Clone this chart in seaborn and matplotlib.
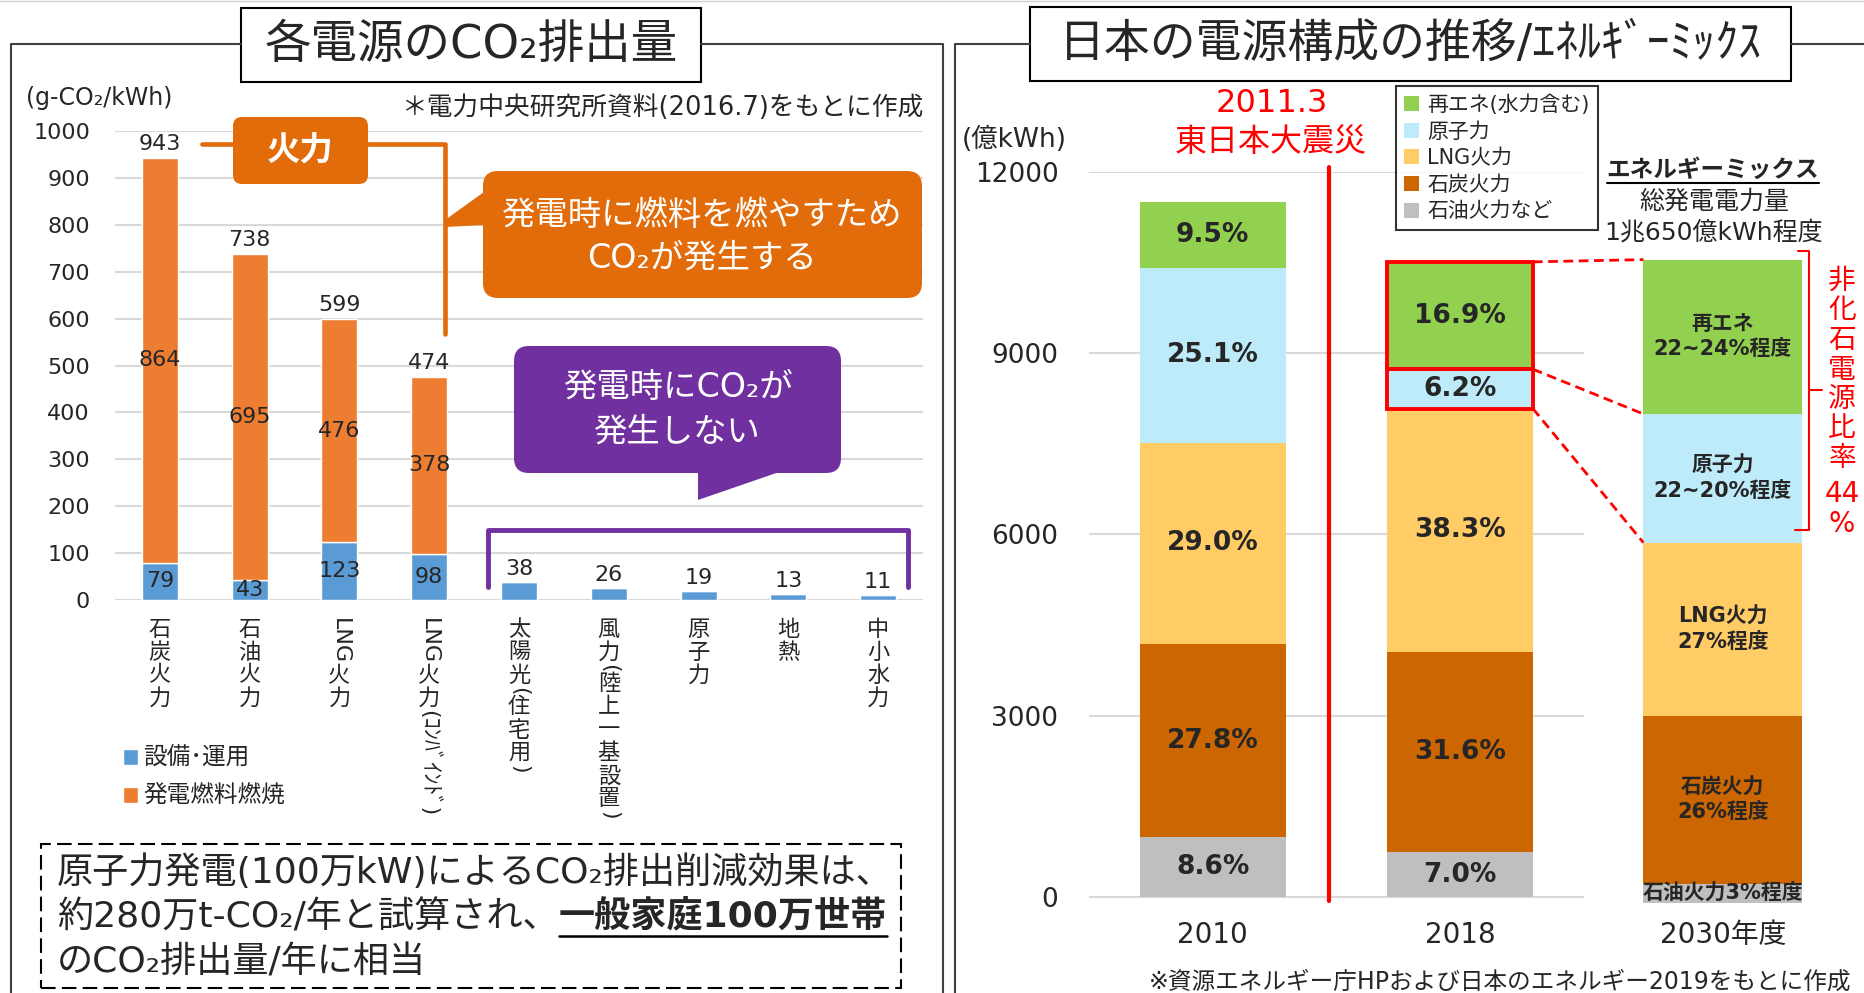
import matplotlib
matplotlib.use("Agg")
import matplotlib.pyplot as plt
import seaborn as sns
import numpy as np
from matplotlib.patches import FancyBboxPatch, Polygon, Rectangle
from matplotlib.lines import Line2D
from matplotlib.transforms import IdentityTransform

# --- datos: CO2 por fuente (g-CO2/kWh) ---
fuentes = ['石炭火力', '石油火力', 'LNG火力', 'LNG火力(ｺﾝﾊﾞｲﾝﾄﾞ)', '太陽光(住宅用)',
           '風力(陸上一基設置)', '原子力', '地熱', '中小水力']
setsubi = [79, 43, 123, 98, 38, 26, 19, 13, 11]      # 設備・運用
nenryo = [864, 695, 476, 378, 0, 0, 0, 0, 0]         # 発電燃料燃焼
goukei = [943, 738, 599, 474, 38, 26, 19, 13, 11]

# --- datos: composicion de generacion (億kWh, %) ---
nendo = ['2010', '2018', '2030年度']
souhatsuden = [11500, 10512, 10650]
dengen = ['石油火力など', '石炭火力', 'LNG火力', '原子力', '再エネ(水力含む)']
share_2010 = [8.6, 27.8, 29.0, 25.1, 9.5]
share_2018 = [7.0, 31.6, 38.3, 6.2, 16.9]
share_2030 = [3, 26, 27, 20, 24]
etiquetas_2030 = ['石油火力3%程度', '石炭火力\n26%程度', 'LNG火力\n27%程度',
                  '原子力\n22~20%程度', '再エネ\n22~24%程度']

AZUL = '#5B9BD5'
NARANJA = '#ED7D31'
NARANJA_OSC = '#E26B0A'
MORADO = '#7030A0'
colores_mix = ['#BFBFBF', '#CC6600', '#FFCC66', '#BDEBFA', '#92D050']

sns.set_theme(style="white")
plt.rcParams['font.family'] = ['DejaVu Sans', 'Noto Sans CJK JP']

W, H = 1865, 993
fig = plt.figure(figsize=(W / 100, H / 100), dpi=100)
ID = IdentityTransform()
renderer = fig.canvas.get_renderer()


def texto(x, y, s, **kw):
    return fig.text(x, H - y, s, transform=ID, **kw)


def linea(pts, **kw):
    fig.add_artist(Line2D([p[0] for p in pts], [H - p[1] for p in pts], transform=ID, **kw))


def caja(x0, y0, x1, y1, r, fc, ec='none', lw=0):
    fig.add_artist(FancyBboxPatch((x0, H - y1), x1 - x0, y1 - y0,
                                  boxstyle=f"round,pad=0,rounding_size={r}",
                                  transform=ID, fc=fc, ec=ec, lw=lw))


def poligono(pts, color):
    fig.add_artist(Polygon([(x, H - y) for x, y in pts], closed=True, transform=ID, fc=color, ec='none'))


def texto_vertical(xc, ytop, s, size, paso, **kw):
    # escritura vertical: kanji derechos, latin/kana de medio ancho girados
    runs = []
    for ch in s:
        up = ord(ch) >= 0x3000 and not (0xFF61 <= ord(ch) <= 0xFF9F)
        if runs and not up and not runs[-1][1]:
            runs[-1][0] += ch
        else:
            runs.append([ch, up])
    y = ytop
    for run, up in runs:
        if up:
            texto(xc, y + paso / 2, run, fontsize=size, ha='center', va='center', **kw)
            y += paso
        else:
            t = texto(xc, 0, run, fontsize=size, rotation=-90, ha='center', va='center', **kw)
            h = t.get_window_extent(renderer).height
            t.set_position((xc, H - (y + h / 2)))
            y += h


# ================= panel izquierdo =================
ax1 = fig.add_axes([115 / W, 1 - 600 / H, 808 / W, 469 / H])
sns.barplot(x=fuentes, y=setsubi, color=AZUL, width=0.4, saturation=1, errorbar=None, ax=ax1)
ax1.bar(np.arange(len(fuentes)), nenryo, bottom=setsubi, width=0.4, color=NARANJA)
ax1.set_xlim(-0.5, 8.5)
ax1.set_ylim(0, 1000)
ax1.set_yticks(range(0, 1001, 100))
ax1.set_xticks([])
ax1.set_xlabel('')
ax1.set_ylabel('')
ax1.tick_params(axis='y', labelsize=16, length=0, pad=18)
ax1.yaxis.grid(True, color='#D9D9D9', lw=1.5)
ax1.set_axisbelow(True)
ax1.set_facecolor('none')
for sp in ax1.spines.values():
    sp.set_visible(False)

bc_az, bc_nar = ax1.containers[0], ax1.containers[1]
ax1.bar_label(bc_az, labels=[str(v) if n > 0 else '' for v, n in zip(setsubi, nenryo)],
              label_type='center', fontsize=16)
ax1.bar_label(bc_az, labels=[str(v) if n == 0 else '' for v, n in zip(setsubi, nenryo)],
              padding=2, fontsize=16)
ax1.bar_label(bc_nar, labels=[str(n) if n > 0 else '' for n in nenryo], label_type='center', fontsize=16)
ax1.bar_label(bc_nar, labels=[str(t) if n > 0 else '' for t, n in zip(goukei, nenryo)], padding=3, fontsize=16)

ax1.legend([bc_az, bc_nar], ['設備･運用', '発電燃料燃焼'], loc='upper left',
           bbox_to_anchor=(123 / W, 1 - 746 / H), bbox_transform=fig.transFigure,
           frameon=False, fontsize=17, handlelength=0.64, handleheight=0.64,
           handletextpad=0.2, labelspacing=0.6, borderpad=0, borderaxespad=0)

for i, nombre in enumerate(fuentes):
    xd = ax1.transData.transform((i, 0))[0]
    texto_vertical(xd, 618, nombre, 16, 23)

# marco y titulo
linea([(241, 44), (11, 44), (11, 1000)], color='#404040', lw=1.5)
linea([(701, 44), (943, 44), (943, 1000)], color='#404040', lw=1.5)
fig.add_artist(Rectangle((241, H - 82), 460, 74, transform=ID, fc='white', ec='black', lw=1.5))
texto(471, 45, '各電源のCO₂排出量', fontsize=33.5, ha='center', va='center')
texto(99, 98, '(g-CO₂/kWh)', fontsize=17, ha='center', va='center')
texto(923, 108, '＊電力中央研究所資料(2016.7)をもとに作成', fontsize=18.5, ha='right', va='center')

# 火力
linea([(202, 144), (233, 144)], color=NARANJA_OSC, lw=3.3)
linea([(368, 144), (445, 144), (445, 334)], color=NARANJA_OSC, lw=3.3)
caja(233, 117, 368, 184, 9, NARANJA_OSC)
texto(300, 150, '火力', fontsize=24, fontweight='bold', color='white', ha='center', va='center')

caja(483, 171, 922, 298, 15, NARANJA_OSC)
poligono([(484, 192), (445, 220), (445, 227), (484, 225)], NARANJA_OSC)
texto(702, 215, '発電時に燃料を燃やすため', fontsize=24, color='white', ha='center', va='center')
texto(702, 258, 'CO₂が発生する', fontsize=24, color='white', ha='center', va='center')

caja(514, 346, 841, 473, 15, MORADO)
poligono([(698, 470), (785, 470), (698, 500)], MORADO)
texto(679, 388, '発電時にCO₂が', fontsize=24, color='white', ha='center', va='center')
texto(677, 432, '発生しない', fontsize=24, color='white', ha='center', va='center')
linea([(488, 587), (488, 530), (908, 530), (908, 587)], color=MORADO, lw=3.5)

# recuadro inferior
fig.add_artist(Rectangle((41, H - 988), 860, 144, transform=ID, fill=False, ec='black',
                         lw=1.5, ls=(0, (7, 3))))
texto(57, 872, '原子力発電(100万kW)によるCO₂排出削減効果は、', fontsize=26, va='center')
t1 = texto(57, 917, '約280万t-CO₂/年と試算され、', fontsize=26, va='center')
bb1 = t1.get_window_extent(renderer)
t2 = texto(bb1.x1, 917, '一般家庭100万世帯', fontsize=26, fontweight='bold', va='center')
bb2 = t2.get_window_extent(renderer)
linea([(bb2.x0, 936), (bb2.x1, 936)], color='black', lw=1.8)
texto(57, 962, 'のCO₂排出量/年に相当', fontsize=26, va='center')

# ================= panel derecho =================
ax2 = fig.add_axes([1089 / W, 1 - 915 / H, 776 / W, 743 / H])
xpos = np.array([0, 1, 2.063])
anchos = np.array([0.59, 0.59, 0.642])
base = np.array([0, 0, -100])
shares = np.array([share_2010, share_2018, share_2030])
alturas = np.array(souhatsuden)[:, None] * shares / 100
fondos = base[:, None] + np.cumsum(alturas, axis=1) - alturas

for j in range(len(dengen)):
    ax2.bar(xpos, alturas[:, j], bottom=fondos[:, j], width=anchos, color=colores_mix[j], linewidth=0)

ax2.set_xlim(-0.5, 2.638)
ax2.set_ylim(-300, 12000)
ax2.hlines(range(0, 12001, 3000), -0.5, 1.5, colors='#D9D9D9', lw=1.5, zorder=0.5)
ax2.set_yticks(range(0, 12001, 3000))
ax2.set_xticks(xpos)
ax2.set_xticklabels(nendo)
ax2.tick_params(axis='y', labelsize=19, length=0, pad=22)
ax2.tick_params(axis='x', labelsize=20, length=0, pad=4)
ax2.set_facecolor('none')
for sp in ax2.spines.values():
    sp.set_visible(False)

for j, cont in enumerate(ax2.containers):
    ax2.bar_label(cont, labels=[f"{shares[0, j]:.1f}%", f"{shares[1, j]:.1f}%", ''],
                  label_type='center', fontsize=19, fontweight='bold')
    ax2.bar_label(cont, labels=['', '', etiquetas_2030[j]], label_type='center',
                  fontsize=15, fontweight='bold', linespacing=1.3)

# resaltar no fosiles 2018 y conectar con 2030
for j in (3, 4):
    ax2.add_patch(Rectangle((1 - anchos[1] / 2, fondos[1, j]), anchos[1], alturas[1, j],
                            fill=False, ec='red', lw=2.8, clip_on=False, zorder=5))
for y18, y30 in [(fondos[1, 3], fondos[2, 3]), (fondos[1, 4], fondos[2, 4]),
                 (fondos[1, 4] + alturas[1, 4], fondos[2, 4] + alturas[2, 4])]:
    ax2.plot([1 + anchos[1] / 2, xpos[2] - anchos[2] / 2], [y18, y30],
             color='red', lw=2, ls=(0, (3.5, 2)), zorder=5)

terremoto_x = 0.469
ax2.plot([terremoto_x, terremoto_x], [-60, 12080], color='red', lw=3, clip_on=False)

handles = ax2.containers[::-1]
ax2.legend(handles, dengen[::-1], loc='upper left', bbox_to_anchor=(1396 / W, 1 - 86 / H),
           bbox_transform=fig.transFigure, fontsize=15, frameon=True, fancybox=False,
           edgecolor='black', borderpad=0.4, handlelength=0.72, handleheight=0.72,
           handletextpad=0.38, labelspacing=0.32, borderaxespad=0).get_frame().set_linewidth(1.5)

# marco y titulo
linea([(1030, 44), (955, 44), (955, 1000)], color='#404040', lw=1.5)
linea([(1791, 44), (1870, 44)], color='#404040', lw=1.5)
fig.add_artist(Rectangle((1030, H - 81), 761, 74, transform=ID, fc='white', ec='black', lw=1.5))
texto(1410, 44, '日本の電源構成の推移/ｴﾈﾙｷﾞｰﾐｯｸｽ', fontsize=33, ha='center', va='center')

texto(1014, 140, '(億kWh)', fontsize=19, ha='center', va='center')
texto(1272, 104, '2011.3', fontsize=23, color='red', ha='center', va='center')
texto(1271, 142, '東日本大震災', fontsize=23, color='red', ha='center', va='center')

t3 = texto(1713, 170, 'エネルギーミックス', fontsize=17, fontweight='bold', ha='center', va='center')
bb3 = t3.get_window_extent(renderer)
linea([(bb3.x0, 183), (bb3.x1, 183)], color='black', lw=1.5)
texto(1714, 202, '総発電電力量', fontsize=18, ha='center', va='center')
texto(1714, 233, '1兆650億kWh程度', fontsize=18, ha='center', va='center')

linea([(1798, 251), (1809, 251), (1809, 530), (1795, 530)], color='red', lw=1.5)
linea([(1809, 390), (1822, 390)], color='red', lw=1.5)
for k, c in enumerate('非化石電源比率'):
    texto(1842, 281 + 29.5 * k, c, fontsize=20, color='red', ha='center', va='center')
texto(1842, 494, '44', fontsize=20, color='red', ha='center', va='center')
texto(1842, 524, '%', fontsize=20, color='red', ha='center', va='center')

texto(1851, 982, '※資源エネルギー庁HPおよび日本のエネルギー2019をもとに作成', fontsize=17, ha='right', va='center')

linea([(0, 1), (W, 1)], color='#D0D0D0', lw=1)

fig.savefig('out.png', dpi=100)
